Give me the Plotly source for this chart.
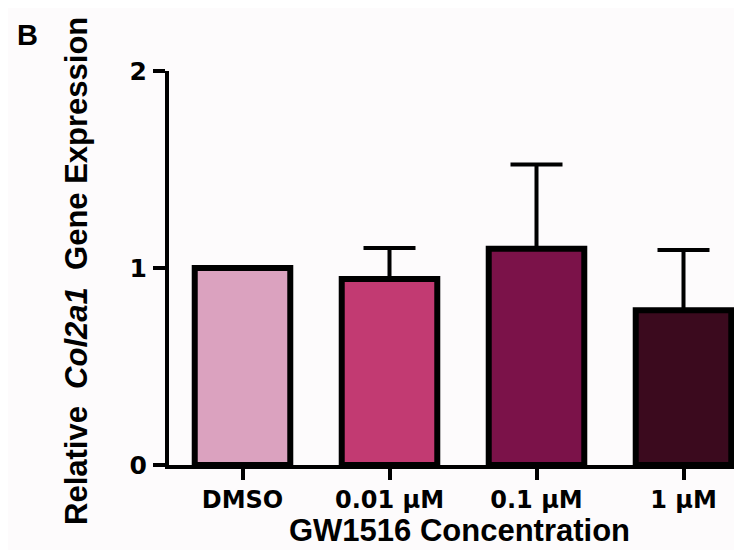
import plotly.graph_objects as go

# Data
categories = ["DMSO", "0.01 µM", "0.1 µM", "1 µM"]
values = [1.00, 0.944, 1.098, 0.785]
errors_up = [None, 0.157, 0.427, 0.306]
bar_colors = ["#dba2bf", "#c23a72", "#7b1249", "#3b0a1e"]
y_ticks = [0, 1, 2]

x_title = "GW1516 Concentration"
y_title = "Relative  <i>Col2a1</i>  Gene Expression"
panel_label = "B"

W, H = 742, 550
ML, MR, MT, MB = 161, 0, 63, 93
plot_w = W - ML - MR
plot_h = H - MT - MB
px_per_cat = 147.0
x_max = -0.5 + plot_w / px_per_cat

fig = go.Figure()
fig.add_trace(go.Bar(
    x=list(range(len(categories))),
    y=values,
    width=0.65,
    marker=dict(color=bar_colors, line=dict(color="black", width=6)),
    error_y=dict(type="data", symmetric=False, array=errors_up,
                 arrayminus=[0] * len(values), color="black",
                 thickness=4, width=26),
    showlegend=False,
))

tick_font = dict(family="DejaVu Sans", size=24, color="black", weight="bold")
fig.update_layout(
    width=W, height=H, autosize=False,
    margin=dict(l=ML, r=MR, t=MT, b=MB, pad=0),
    paper_bgcolor="#fdfbfc", plot_bgcolor="#fdfbfc",
    xaxis=dict(
        range=[-0.5, x_max], tickmode="array",
        tickvals=list(range(len(categories))), ticktext=categories,
        showline=True, linecolor="black", linewidth=4,
        ticks="outside", ticklen=11, tickwidth=4, tickcolor="black",
        tickfont=tick_font, showgrid=False, zeroline=False,
        ticklabelstandoff=-1,
    ),
    yaxis=dict(
        range=[0, 2], tickmode="array", tickvals=y_ticks,
        showline=True, linecolor="black", linewidth=4,
        ticks="outside", ticklen=12, tickwidth=4, tickcolor="black",
        tickfont=dict(family="DejaVu Sans", size=25, color="black", weight="bold"),
        showgrid=False, zeroline=False, ticklabelstandoff=1,
    ),
)

def px_x(p):
    return (p - ML) / plot_w

def px_y(p):
    return (H - MB - p) / plot_h

fig.add_annotation(text=x_title, xref="paper", yref="paper",
                   x=px_x(451), y=px_y(522), xanchor="center", yanchor="middle",
                   showarrow=False,
                   font=dict(family="Liberation Sans", size=31, color="black", weight="bold"))
fig.add_annotation(text=y_title, xref="paper", yref="paper",
                   x=px_x(68), y=px_y(263), xanchor="center", yanchor="middle",
                   textangle=-90, showarrow=False,
                   font=dict(family="Liberation Sans", size=31, color="black", weight="bold"))
fig.add_annotation(text=panel_label, xref="paper", yref="paper",
                   x=px_x(19), y=px_y(27), xanchor="center", yanchor="middle",
                   showarrow=False,
                   font=dict(family="Liberation Sans", size=29, color="black", weight="bold"))

fig.write_html("out.html")
